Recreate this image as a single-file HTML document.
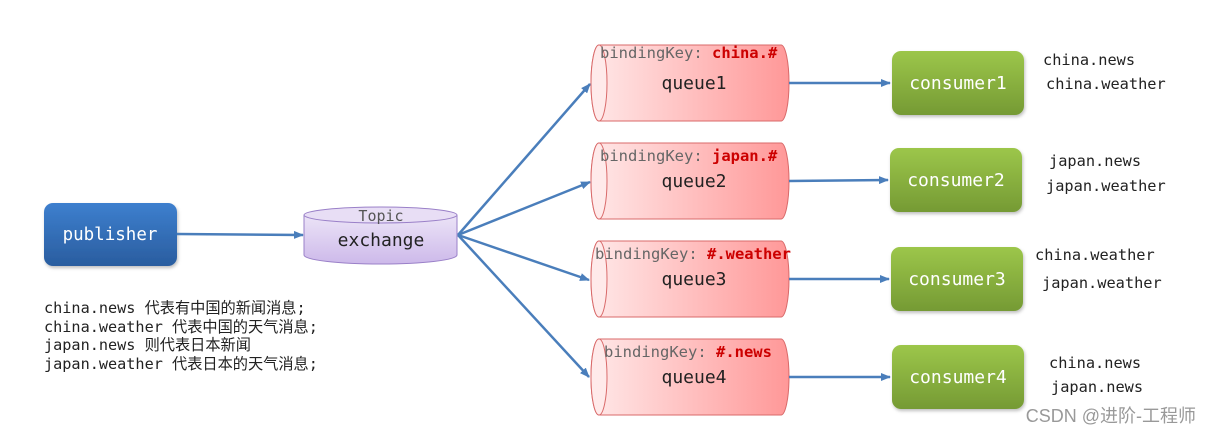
<!DOCTYPE html>
<html><head><meta charset="utf-8"><style>
html,body{margin:0;padding:0;background:#fff;}
svg{display:block;}
.m{font-family:"DejaVu Sans Mono","Liberation Mono","Noto Sans CJK SC",monospace;}
</style></head><body>
<svg width="1212" height="436" viewBox="0 0 1212 436" xmlns="http://www.w3.org/2000/svg">
<defs>
<linearGradient id="pub" x1="0" y1="0" x2="0" y2="1"><stop offset="0" stop-color="#3d7fce"/><stop offset="1" stop-color="#2a5d9f"/></linearGradient>
<linearGradient id="grn" x1="0" y1="0" x2="0" y2="1"><stop offset="0" stop-color="#9cc64a"/><stop offset="1" stop-color="#759a34"/></linearGradient>
<linearGradient id="red" x1="0" y1="0" x2="1" y2="0"><stop offset="0" stop-color="#ffe8e8"/><stop offset="1" stop-color="#ff9898"/></linearGradient>
<linearGradient id="pur" x1="0" y1="0" x2="0" y2="1"><stop offset="0" stop-color="#ece4f7"/><stop offset="1" stop-color="#cdb9ea"/></linearGradient>
<marker id="ah" markerWidth="10" markerHeight="8" refX="9" refY="4" orient="auto" markerUnits="userSpaceOnUse"><path d="M0,0 L10,4 L0,8 z" fill="#4a7ebb"/></marker>
<filter id="sh" x="-10%" y="-10%" width="130%" height="140%"><feDropShadow dx="1" dy="2" stdDeviation="1.5" flood-color="#000" flood-opacity="0.25"/></filter>
</defs>

<rect x="44" y="203" width="133" height="63" rx="9" fill="url(#pub)" filter="url(#sh)"/>
<text x="110" y="240" class="m" font-size="17.5" fill="#fff" text-anchor="middle">publisher</text>
<line x1="177" y1="234" x2="303" y2="235" stroke="#4a7ebb" stroke-width="2.5" marker-end="url(#ah)"/>

<path d="M304,215 L304,255 A76.5,9 0 0 0 457,255 L457,215" fill="url(#pur)" stroke="#9a80c8"/>
<ellipse cx="380.5" cy="215" rx="76.5" ry="8" fill="#e8def5" stroke="#9a80c8"/>
<text x="381" y="221" class="m" font-size="15" fill="#555" text-anchor="middle">Topic</text>
<text x="381" y="246" class="m" font-size="18" fill="#222" text-anchor="middle">exchange</text>

<g stroke="#4a7ebb" stroke-width="2.5" marker-end="url(#ah)">
<line x1="458" y1="235" x2="590" y2="84"/>
<line x1="458" y1="235" x2="590" y2="182"/>
<line x1="458" y1="235" x2="589" y2="280"/>
<line x1="458" y1="235" x2="589" y2="377"/>
</g>

<g>
<path d="M599,45 L781,45 A8,38 0 0 1 781,121 L599,121 A8,38 0 0 1 599,45 Z" fill="url(#red)" stroke="#d96a6a"/>
<ellipse cx="599" cy="83" rx="8" ry="38" fill="#ffeaea" stroke="#d96a6a"/>
<text x="600" y="58" class="m" font-size="15.5" fill="#666">bindingKey: <tspan fill="#cc0000" font-weight="bold">china.#</tspan></text>
<text x="694" y="89" class="m" font-size="18" fill="#222" text-anchor="middle">queue1</text>
</g>
<g>
<path d="M599,143 L781,143 A8,38 0 0 1 781,219 L599,219 A8,38 0 0 1 599,143 Z" fill="url(#red)" stroke="#d96a6a"/>
<ellipse cx="599" cy="181" rx="8" ry="38" fill="#ffeaea" stroke="#d96a6a"/>
<text x="600" y="161" class="m" font-size="15.5" fill="#666">bindingKey: <tspan fill="#cc0000" font-weight="bold">japan.#</tspan></text>
<text x="694" y="187" class="m" font-size="18" fill="#222" text-anchor="middle">queue2</text>
</g>
<g>
<path d="M599,241 L781,241 A8,38 0 0 1 781,317 L599,317 A8,38 0 0 1 599,241 Z" fill="url(#red)" stroke="#d96a6a"/>
<ellipse cx="599" cy="279" rx="8" ry="38" fill="#ffeaea" stroke="#d96a6a"/>
<text x="595" y="259" class="m" font-size="15.5" fill="#666">bindingKey: <tspan fill="#cc0000" font-weight="bold">#.weather</tspan></text>
<text x="694" y="285" class="m" font-size="18" fill="#222" text-anchor="middle">queue3</text>
</g>
<g>
<path d="M599,339 L781,339 A8,38 0 0 1 781,415 L599,415 A8,38 0 0 1 599,339 Z" fill="url(#red)" stroke="#d96a6a"/>
<ellipse cx="599" cy="377" rx="8" ry="38" fill="#ffeaea" stroke="#d96a6a"/>
<text x="604" y="357" class="m" font-size="15.5" fill="#666">bindingKey: <tspan fill="#cc0000" font-weight="bold">#.news</tspan></text>
<text x="694" y="383" class="m" font-size="18" fill="#222" text-anchor="middle">queue4</text>
</g>

<g stroke="#4a7ebb" stroke-width="2.5" marker-end="url(#ah)">
<line x1="789" y1="83" x2="890" y2="83"/>
<line x1="789" y1="181" x2="888" y2="180"/>
<line x1="789" y1="279" x2="889" y2="279"/>
<line x1="789" y1="377" x2="890" y2="377"/>
</g>

<rect x="892" y="51" width="132" height="64" rx="9" fill="url(#grn)" filter="url(#sh)"/>
<text x="958" y="89" class="m" font-size="18" fill="#fff" text-anchor="middle">consumer1</text>
<rect x="890" y="148" width="132" height="64" rx="9" fill="url(#grn)" filter="url(#sh)"/>
<text x="956" y="186" class="m" font-size="18" fill="#fff" text-anchor="middle">consumer2</text>
<rect x="891" y="247" width="132" height="64" rx="9" fill="url(#grn)" filter="url(#sh)"/>
<text x="957" y="285" class="m" font-size="18" fill="#fff" text-anchor="middle">consumer3</text>
<rect x="892" y="345" width="132" height="64" rx="9" fill="url(#grn)" filter="url(#sh)"/>
<text x="958" y="383" class="m" font-size="18" fill="#fff" text-anchor="middle">consumer4</text>

<g class="m" font-size="15.3" fill="#222">
<text x="1043" y="65">china.news</text>
<text x="1046" y="89">china.weather</text>
<text x="1049" y="166">japan.news</text>
<text x="1046" y="191">japan.weather</text>
<text x="1035" y="260">china.weather</text>
<text x="1042" y="288">japan.weather</text>
<text x="1049" y="368">china.news</text>
<text x="1051" y="392">japan.news</text>
</g>

<g class="m" font-size="15.2" fill="#222">
<text x="44" y="313">china.news 代表有中国的新闻消息;</text>
<text x="44" y="332">china.weather 代表中国的天气消息;</text>
<text x="44" y="350">japan.news 则代表日本新闻</text>
<text x="44" y="369">japan.weather 代表日本的天气消息;</text>
</g>

<text x="1196" y="422" font-family="'Liberation Sans','Noto Sans CJK SC',sans-serif" font-size="18" fill="#999" text-anchor="end">CSDN @进阶-工程师</text>
</svg>
</body></html>
